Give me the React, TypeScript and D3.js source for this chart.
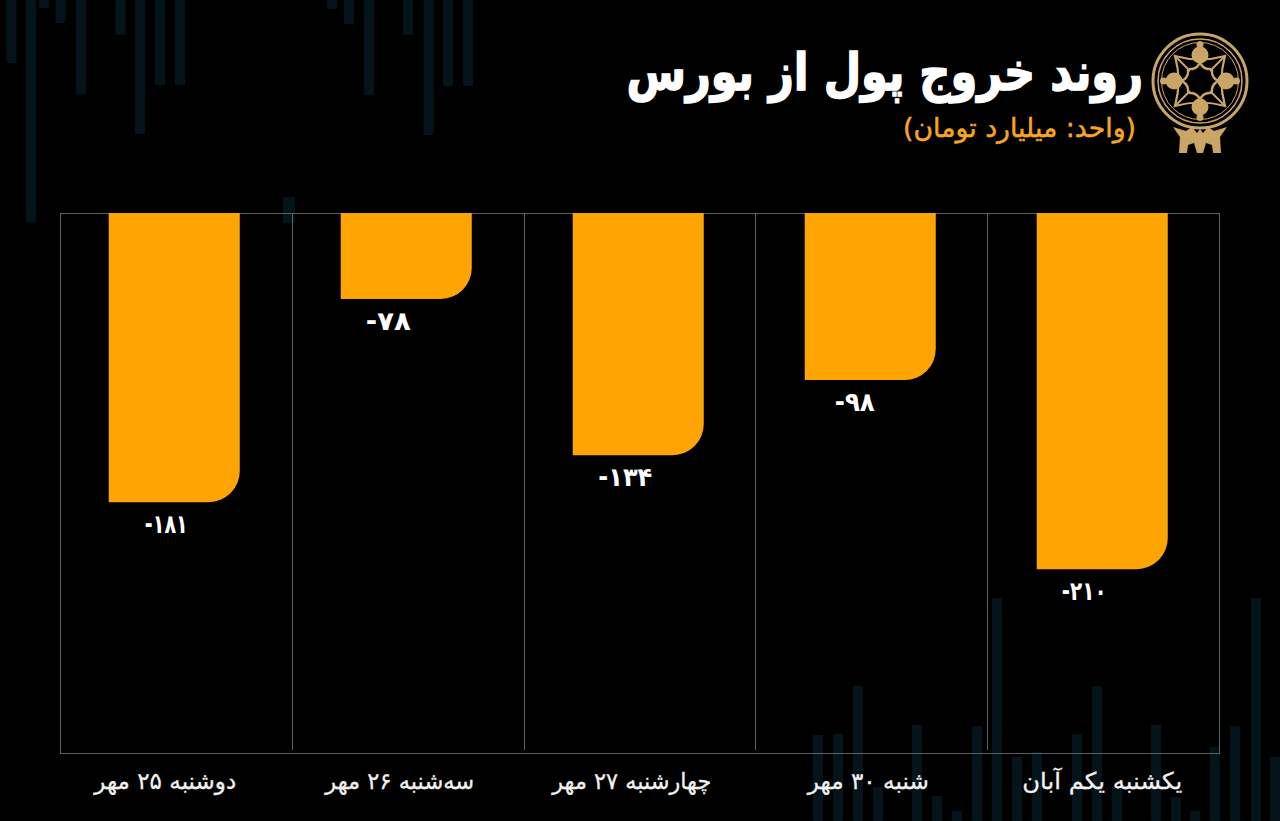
import * as d3 from 'd3';

const days = ['دوشنبه ۲۵ مهر', 'سه‌شنبه ۲۶ مهر', 'چهارشنبه ۲۷ مهر', 'شنبه ۳۰ مهر', 'یکشنبه یکم آبان'];
const valueLabels = ['-۱۸۱', '-۷۸', '-۱۳۴', '-۹۸', '-۲۱۰'];
// the bars in the picture are not to scale with their labels, so these are the lengths as drawn
const drawnValues = [-170.5, -50.7, -142.8, -98.5, -210];

// faint candles behind the chart
const topCandleX = [11.5, 31, 44, 60.5, 81, 120.5, 140, 160, 180, 332, 349, 369, 408, 428.5, 448, 468];
const topCandleEnd = [63, 222, 8, 23, 94, 35, 134, 85, 85, 9, 24, 95, 35, 135, 86, 86];
const bottomCandleX = [818, 838, 858, 878, 917, 937, 957, 977, 997, 1017, 1037, 1077, 1097, 1117, 1156, 1176, 1195, 1215, 1235, 1256, 1275];
const bottomCandleTop = [735, 734, 686, 787, 725, 796, 811, 726, 598, 757, 752, 734, 686, 787, 725, 797, 811, 747, 726, 598, 757];

const width = 1280;
const height = 821;
const plot = { left: 60, right: 1220, top: 213, bottom: 754 };
const barWidth = 131;
const cornerR = 31;
const font = '"DejaVu Sans", sans-serif';
const gold = '#c9a566';
// labels sit off the bar centres in the reference
const valueShift = [-8, -18, -13, -15.5, -18];
const dayShift = [-9, -6.5, -6.5, -2, 0];
const valueWidth = [43, 45, 54, 40, 45];
const dayWidth = [142, 149, 159, 121, 160];

const x = d3.scaleBand<string>().domain(days).range([plot.left, plot.right]);
const gridX = d3.scaleBand<string>().domain(days).range([plot.left + 0.5, plot.right - 0.75]);
const y = d3.scaleLinear().domain([0, -319]).range([plot.top, plot.bottom]);

function barPath(x0: number, y0: number, x1: number, y1: number) {
  const p = d3.path();
  p.moveTo(x0, y0);
  p.lineTo(x1, y0);
  p.lineTo(x1, y1 - cornerR);
  p.arcTo(x1, y1, x1 - cornerR, y1, cornerR);
  p.lineTo(x0, y1);
  p.closePath();
  return p.toString();
}

function Logo() {
  const corner = 25;
  const mid = 18;
  const frame = `M${-corner},${-corner} Q0,${-mid} ${corner},${-corner} Q${mid},0 ${corner},${corner} Q0,${mid} ${-corner},${corner} Q${-mid},0 ${-corner},${-corner}Z`;
  const star =
    'M0,-19 Q2,-13 8,-12 Q13,-13 12,-8 Q13,-2 19,0 Q13,2 12,8 Q13,13 8,12 Q2,13 0,19 Q-2,13 -8,12 Q-13,13 -12,8 Q-13,2 -19,0 Q-13,-2 -12,-8 Q-13,-13 -8,-12 Q-2,-13 0,-19Z';
  return (
    <g transform="translate(1200,81)" fill="none" stroke={gold}>
      <ellipse rx={47} ry={47} strokeWidth={3} />
      <ellipse rx={42} ry={42} strokeWidth={1.5} />
      <ellipse rx={38.5} ry={38.5} strokeWidth={1} />
      <path d={frame} strokeWidth={2.2} />
      <path d={star} strokeWidth={2.4} />
      {[0, 90, 180, 270].map((a) => (
        <g key={a} transform={`rotate(${a})`}>
          <g fill={gold} stroke="none">
            <circle cy={-26} r={8.5} />
            <circle cy={-36.5} r={3.5} />
            <rect x={-1} y={-24} width={2} height={6} />
          </g>
          <line x1={10} y1={-10} x2={corner} y2={-corner} strokeWidth={2} />
        </g>
      ))}
      <g fill={gold} stroke="none">
        <path d="M-27,46 L-14,50 L-8,46 L-3,52 L0,48 L3,52 L8,46 L14,50 L27,46 L20,56 L21,72 L13,72 L12,64 L6,62 L3,72 L-3,72 L-6,62 L-12,64 L-13,72 L-21,72 L-20,56Z" />
      </g>
    </g>
  );
}

export default function App() {
  return (
    <>
      <style>{'body{margin:0;background:#000}'}</style>
      <svg width={width} height={height} viewBox={`0 0 ${width} ${height}`} style={{ display: 'block', background: '#000', fontFamily: font }}>
        <g fill="#03151a">
          {topCandleX.map((cx, i) => (
            <rect key={i} x={cx - 5} y={0} width={10} height={topCandleEnd[i]} rx={1} />
          ))}
          <rect x={283} y={197} width={12} height={26} rx={1} />
          {bottomCandleX.map((cx, i) => (
            <rect key={i} x={cx - 5} y={bottomCandleTop[i]} width={10} height={height - bottomCandleTop[i]} rx={1} />
          ))}
        </g>

        <rect
          x={plot.left + 0.5}
          y={plot.top + 0.5}
          width={plot.right - plot.left - 1}
          height={plot.bottom - plot.top - 1}
          fill="none"
          stroke="#5b6062"
        />
        {days.slice(1).map((d) => (
          <line key={d} x1={Math.floor(gridX(d)!) + 0.5} x2={Math.floor(gridX(d)!) + 0.5} y1={plot.top} y2={750} stroke="#5b6062" />
        ))}

        {days.map((d, i) => {
          const cx = x(d)! + x.bandwidth() / 2 - 1.75;
          const y1 = y(drawnValues[i]);
          return (
            <g key={d}>
              <path d={barPath(cx - barWidth / 2, plot.top, cx + barWidth / 2, y1)} fill="#ffa503" />
              <text
                x={cx + valueShift[i]}
                y={y1 + 31}
                textAnchor="middle"
                fill="#fff"
                fontSize={26}
                fontWeight={700}
                direction="ltr"
                textLength={valueWidth[i]}
                lengthAdjust="spacingAndGlyphs"
              >
                {valueLabels[i]}
              </text>
              <text
                x={cx + dayShift[i]}
                y={789}
                textAnchor="middle"
                fill="#f2f2f2"
                stroke="#f2f2f2"
                strokeWidth={0.3}
                fontSize={23}
                direction="rtl"
                textLength={dayWidth[i]}
                lengthAdjust="spacingAndGlyphs"
              >
                {d}
              </text>
            </g>
          );
        })}

        <text
          transform="translate(1143,90) scale(0.83,1)"
          textAnchor="start"
          direction="rtl"
          fill="#fff"
          stroke="#fff"
          strokeWidth={1.5}
          fontSize={52}
          fontWeight={700}
        >
          روند خروج پول از بورس
        </text>
        <text x={1136} y={137} textAnchor="start" direction="rtl" fill="#f5a623" stroke="#f5a623" strokeWidth={0.5} fontSize={26.7}>
          (واحد: میلیارد تومان)
        </text>
        <Logo />
      </svg>
    </>
  );
}
